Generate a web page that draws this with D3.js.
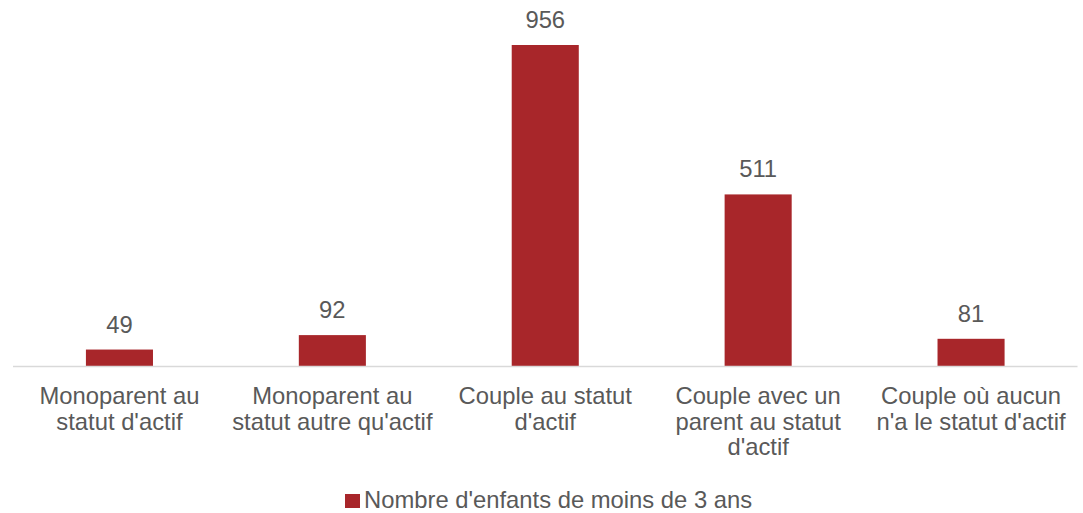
<!DOCTYPE html>
<html>
<head>
<meta charset="utf-8">
<script src="https://cdn.jsdelivr.net/npm/d3@7"></script>
<style>
  body { margin: 0; background: #fff; }
  svg { display: block; font-family: Arial, "Liberation Sans", sans-serif; }
</style>
</head>
<body>
<svg id="chart" width="1083" height="513"></svg>
<script>
// data
const categories = [
  'Monoparent au statut d\'actif',
  'Monoparent au statut autre qu\'actif',
  'Couple au statut d\'actif',
  'Couple avec un parent au statut d\'actif',
  'Couple où aucun n\'a le statut d\'actif'
];
const categoryLines = [
  ['Monoparent au', 'statut d\'actif'],
  ['Monoparent au', 'statut autre qu\'actif'],
  ['Couple au statut', 'd\'actif'],
  ['Couple avec un', 'parent au statut', 'd\'actif'],
  ['Couple où aucun', 'n\'a le statut d\'actif']
];
const values = [49, 92, 956, 511, 81];
const seriesName = 'Nombre d\'enfants de moins de 3 ans';

const color = '#A8262A';
const textColor = '#595959';
const fontSize = '23.8px';

const svg = d3.select('#chart');
const baseY = 366;

const x = d3.scaleBand()
  .domain(categories)
  .range([13, 1077.5])
  .paddingInner(0.685)
  .paddingOuter(0.3425);

const y = d3.scaleLinear()
  .domain([0, 956])
  .range([baseY, 45]);

// bars
svg.selectAll('.bar')
  .data(values)
  .enter()
  .append('rect')
  .attr('class', 'bar')
  .attr('x', (d, i) => x(categories[i]))
  .attr('y', d => y(d))
  .attr('width', x.bandwidth())
  .attr('height', d => y(0) - y(d))
  .attr('fill', color);

// baseline
svg.append('line')
  .attr('x1', 13).attr('x2', 1077.5)
  .attr('y1', y(0) + 0.5).attr('y2', y(0) + 0.5)
  .attr('stroke', '#D9D9D9')
  .attr('stroke-width', 1.5);

// value labels
svg.selectAll('.val')
  .data(values)
  .enter()
  .append('text')
  .attr('class', 'val')
  .attr('x', (d, i) => x(categories[i]) + x.bandwidth() / 2)
  .attr('y', d => y(d) - 17)
  .attr('text-anchor', 'middle')
  .attr('fill', textColor)
  .style('font-size', fontSize)
  .text(d => d);

// category labels
categoryLines.forEach((lines, i) => {
  const cx = x(categories[i]) + x.bandwidth() / 2;
  const t = svg.append('text')
    .attr('text-anchor', 'middle')
    .attr('fill', textColor)
    .style('font-size', fontSize);
  lines.forEach((line, j) => {
    t.append('tspan')
      .attr('x', cx)
      .attr('y', 404 + j * 25.5)
      .text(line);
  });
});

// legend
const legend = svg.append('g').attr('transform', 'translate(345,494)');
legend.append('rect')
  .attr('width', 15)
  .attr('height', 14)
  .attr('fill', color);
legend.append('text')
  .attr('x', 19)
  .attr('y', 14)
  .attr('fill', textColor)
  .style('font-size', fontSize)
  .text(seriesName);
</script>
</body>
</html>
